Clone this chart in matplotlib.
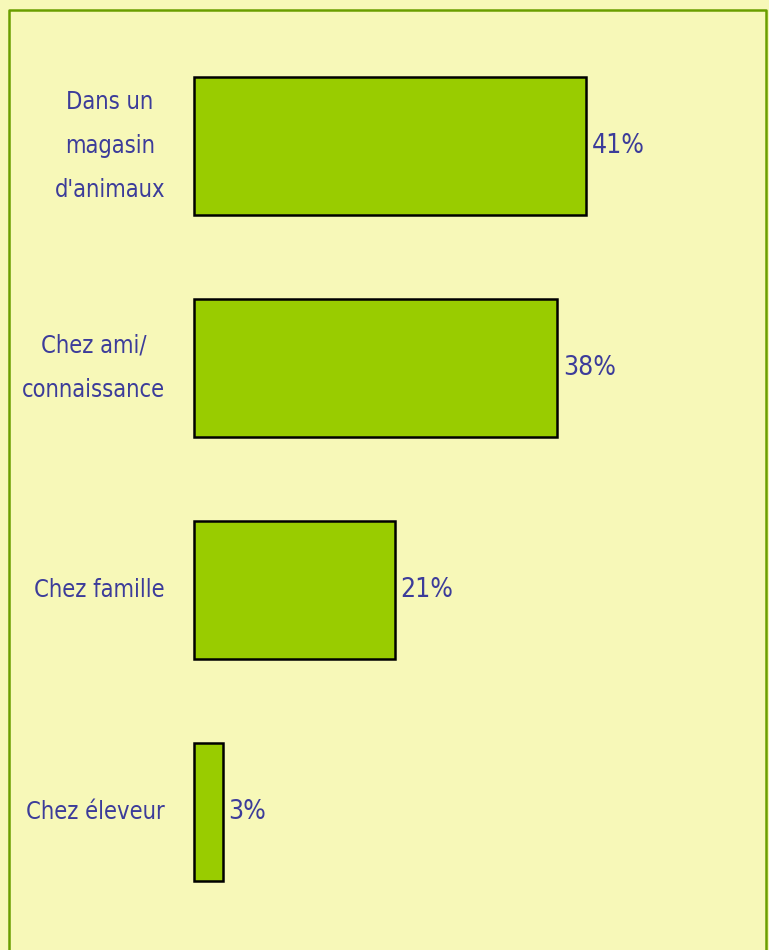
import matplotlib.pyplot as plt
from matplotlib import font_manager

# Data
categories = ["Dans un\nmagasin\nd'animaux", "Chez ami/\nconnaissance", "Chez famille", "Chez éleveur"]
values = [41, 38, 21, 3]

# Style
BG = '#F7F8B8'
FRAME = '#6A9E00'
BAR = '#99CC00'
TEXT = '#3C3C9A'

# look for a narrow face, the reference uses a tall condensed font
narrow = None
for f in font_manager.fontManager.ttflist:
    n = f.name.lower()
    if ('narrow' in n or 'condensed' in n or f.stretch in ('condensed', 'semi-condensed')) \
            and f.weight in (400, 'normal', 'regular') and f.style == 'normal':
        narrow = f.fname
        break

if narrow:
    font = font_manager.FontProperties(fname=narrow)
    lab_size, val_size, lsp = 17, 19, 2.07
else:
    font = font_manager.FontProperties(family='Roboto')
    lab_size, val_size, lsp = 17, 19, 1.95

W, H = 769, 950
fig = plt.figure(figsize=(W / 100, H / 100), dpi=100)
fig.patch.set_facecolor(BG)

# axes covering the whole figure; data units mapped to pixels
px_per_pct = 9.56
x0 = 194
px_per_row = 222
y0 = 146
ax = fig.add_axes([0, 0, 1, 1])
ax.set_facecolor(BG)
ax.set_xlim(-x0 / px_per_pct, (W - x0) / px_per_pct)
ax.set_ylim(3 + (H - (y0 + 3 * px_per_row)) / px_per_row, -y0 / px_per_row)
ax.axis('off')

ypos = list(range(len(values)))
ax.barh(ypos, values, height=0.62, color=BAR, edgecolor='black', linewidth=1.8)

for y, v, lab in zip(ypos, values, categories):
    ax.text(v + 0.6, y, f'{v}%', ha='left', va='center', fontsize=val_size,
            color=TEXT, fontproperties=font)
    ax.text(-29 / px_per_pct, y, lab, ha='right', va='center', fontsize=lab_size,
            color=TEXT, fontproperties=font, multialignment='center', linespacing=lsp)

# frame
fig.add_artist(plt.Line2D([8.5 / W, 8.5 / W, 766 / W, 766 / W],
                          [0, 1 - 9.5 / H, 1 - 9.5 / H, 0],
                          transform=fig.transFigure, color=FRAME, linewidth=1.8))

fig.savefig('out.png', dpi=100, facecolor=BG)
